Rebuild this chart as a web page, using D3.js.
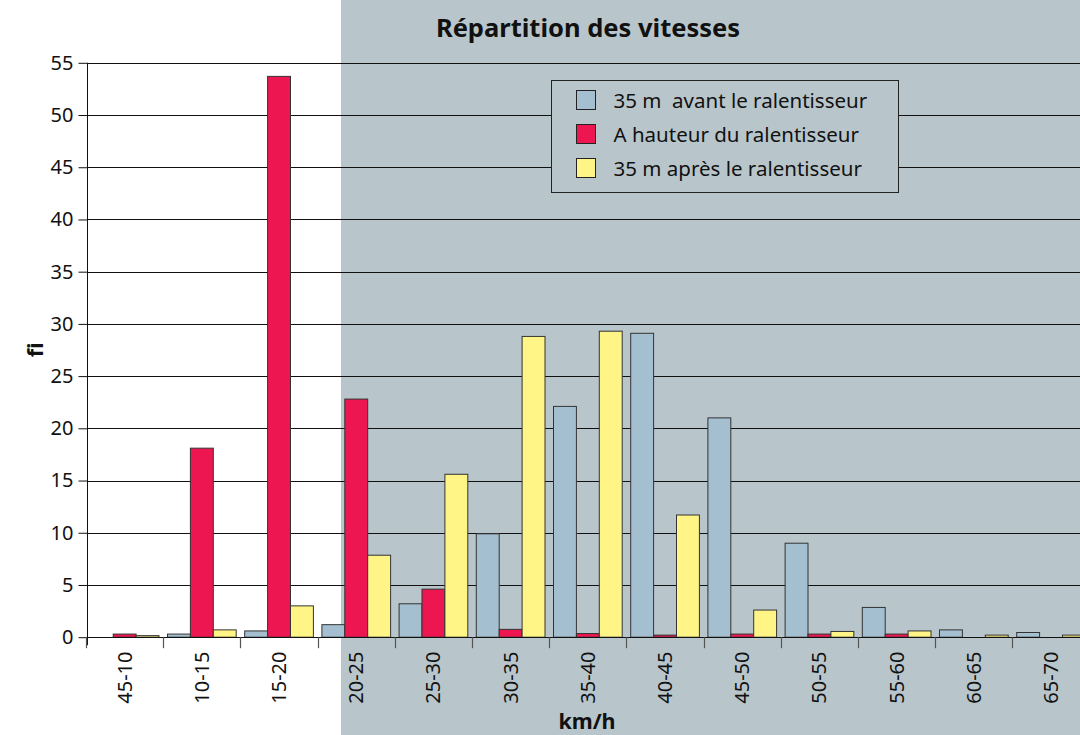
<!DOCTYPE html>
<html>
<head>
<meta charset="utf-8">
<script src="https://cdn.jsdelivr.net/npm/d3@7"></script>
<style>
  body { margin: 0; background: #fff; }
  svg { display: block; font-family: "Noto Sans", sans-serif; }
</style>
</head>
<body>
<svg id="chart"></svg>
<script>
const categories = ['45-10', '10-15', '15-20', '20-25', '25-30', '30-35', '35-40',
    '40-45', '45-50', '50-55', '55-60', '60-65', '65-70'];
const seriesNames = ['35 m  avant le ralentisseur', 'A hauteur du ralentisseur', '35 m après le ralentisseur'];
const avant = [0, 0.3, 0.6, 1.2, 3.2, 9.9, 22.1, 29.1, 21.0, 9.0, 2.85, 0.7, 0.45];
const hauteur = [0.3, 18.1, 53.7, 22.8, 4.6, 0.75, 0.35, 0.2, 0.3, 0.3, 0.3, 0, 0];
const apres = [0.15, 0.7, 3.0, 7.85, 15.6, 28.8, 29.3, 11.7, 2.6, 0.55, 0.6, 0.2, 0.2];
const yTicks = [0, 5, 10, 15, 20, 25, 30, 35, 40, 45, 50, 55];
const colors = ['#a4c0d0', '#ee1651', '#fff587'];

const width = 1080, height = 735;
const svg = d3.select('#chart').attr('width', width).attr('height', height);

const plotLeft = 87, plotTop = 62.8, plotBottom = 637.2;
const catWidth = 77.2;

const x = d3.scaleBand().domain(categories).range([86, 86 + catWidth * categories.length]);
const x1 = d3.scaleBand().domain([0, 1, 2]).range([4.3, 73]);
const y = d3.scaleLinear().domain([0, 55]).range([plotBottom, plotTop]);

// background panel
svg.append('rect').attr('x', 341).attr('y', 0).attr('width', width - 341).attr('height', height)
    .attr('fill', '#b8c6cb');

// grid lines
svg.append('g')
    .selectAll('line')
    .data(yTicks.slice(1))
    .enter()
    .append('line')
    .attr('x1', plotLeft).attr('x2', width)
    .attr('y1', d => Math.round(y(d)) + 0.5).attr('y2', d => Math.round(y(d)) + 0.5)
    .attr('stroke', '#111').attr('stroke-width', 1);

// bars
const series = [avant, hauteur, apres];
const groups = svg.append('g')
    .selectAll('g')
    .data(categories)
    .enter()
    .append('g')
    .attr('transform', d => `translate(${x(d)},0)`);

groups.selectAll('rect')
    .data((d, i) => series.map((s, k) => ({ k: k, v: s[i] })))
    .enter()
    .append('rect')
    .attr('x', d => x1(d.k))
    .attr('width', x1.bandwidth())
    .attr('y', d => y(d.v))
    .attr('height', d => y(0) - y(d.v))
    .attr('fill', d => colors[d.k])
    .attr('stroke', '#333')
    .attr('stroke-width', 1);

// y axis
const yAxis = svg.append('g')
    .attr('transform', `translate(${plotLeft + 0.5},0)`)
    .call(d3.axisLeft(y).tickValues(yTicks).tickSize(9).tickPadding(5));
yAxis.select('.domain').attr('d', `M0,${plotTop}V${plotBottom + 8}`).attr('stroke', '#111');
yAxis.selectAll('.tick line').attr('stroke', '#111');
yAxis.selectAll('.tick text').attr('font-size', 20).attr('fill', '#111')
    .attr('font-family', '"Noto Sans", sans-serif');

// x axis
const xAxis = svg.append('g')
    .attr('transform', `translate(0,${Math.round(plotBottom) + 0.5})`)
    .call(d3.axisBottom(x).tickSize(0).tickPadding(0));
xAxis.select('.domain').attr('d', `M${plotLeft},0H${width}`).attr('stroke', '#111');
xAxis.selectAll('.tick text')
    .attr('font-size', 20).attr('fill', '#111')
    .attr('font-family', '"Noto Sans", sans-serif')
    .attr('transform', 'rotate(-90)')
    .attr('text-anchor', 'end')
    .attr('x', -14).attr('y', 0).attr('dy', '0.35em');

// category separators
svg.append('g')
    .selectAll('line')
    .data(categories)
    .enter()
    .append('line')
    .attr('x1', d => Math.round(x(d)) + 0.5).attr('x2', d => Math.round(x(d)) + 0.5)
    .attr('y1', plotBottom).attr('y2', plotBottom + 11)
    .attr('stroke', '#555').attr('stroke-width', 1.2);

// titles
svg.append('text').attr('x', 588).attr('y', 37).attr('text-anchor', 'middle')
    .attr('font-size', 25.5).attr('font-weight', 'bold').attr('fill', '#111')
    .text('Répartition des vitesses');
svg.append('text').attr('x', 587).attr('y', 729).attr('text-anchor', 'middle')
    .attr('font-size', 21.5).attr('font-weight', 'bold').attr('fill', '#111')
    .text('km/h');
svg.append('text').attr('transform', `translate(43,${(plotTop + plotBottom) / 2}) rotate(-90)`)
    .attr('text-anchor', 'middle')
    .attr('font-size', 21.5).attr('font-weight', 'bold').attr('fill', '#111')
    .text('fi');

// legend
const legend = svg.append('g').attr('transform', 'translate(551.5,80.5)');
legend.append('rect').attr('width', 347).attr('height', 112)
    .attr('fill', '#b8c6cb').attr('stroke', '#222').attr('stroke-width', 1);
const items = legend.selectAll('g')
    .data(seriesNames)
    .enter()
    .append('g')
    .attr('transform', (d, i) => `translate(25,${10 + i * 34})`);
items.append('rect').attr('width', 19).attr('height', 19)
    .attr('fill', (d, i) => colors[i]).attr('stroke', '#222');
items.append('text').attr('x', 37).attr('y', 10).attr('dy', '0.35em')
    .attr('font-size', 20.5).attr('fill', '#111')
    .style('white-space', 'pre')
    .text(d => d);
</script>
</body>
</html>
